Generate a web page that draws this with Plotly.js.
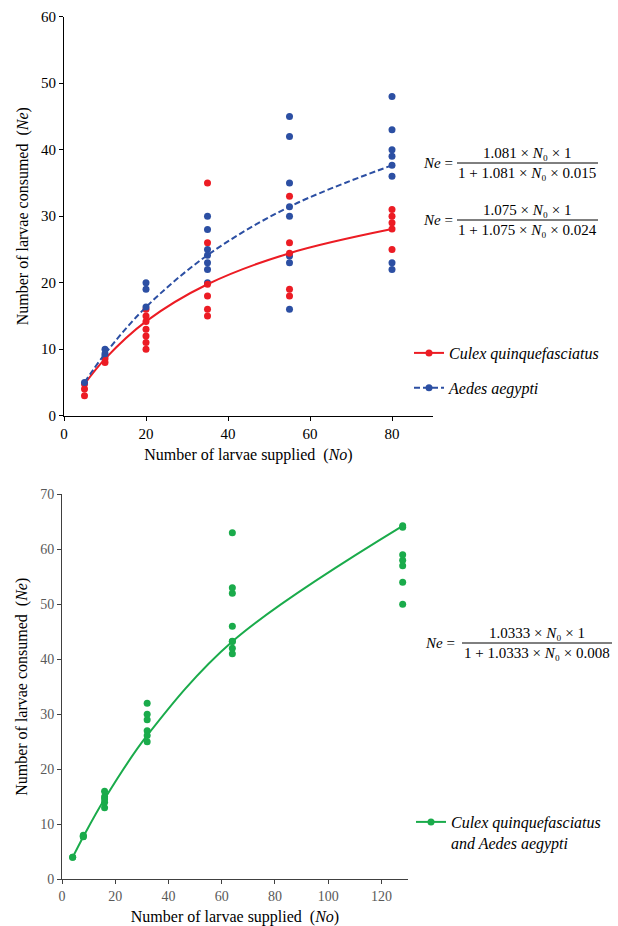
<!DOCTYPE html>
<html><head><meta charset="utf-8">
<script src="https://cdn.plot.ly/plotly-3.0.1.min.js"></script>
<style>html,body{margin:0;padding:0;background:#fff}#chart{width:618px;height:926px}</style>
</head><body><div id="chart"></div>
<script>
// ---- Top panel data ----
const topFitX = [5, 10, 20, 35, 55, 80];
const culexFitY = [4.76, 8.55, 14.18, 19.77, 24.44, 28.07];
const aedesFitY = [5.0, 9.30, 16.33, 24.14, 31.43, 37.65];
const culexObsX = [5,5, 10, 20,20,20,20,20,20, 35,35,35,35,35, 55,55,55,55, 80,80,80,80];
const culexObsY = [3,4, 8, 10,11,12,13,15,16, 15,16,18,26,35, 18,19,26,33, 25,29,30,31];
const aedesObsX = [10,10, 20,20, 35,35,35,35,35,35, 55,55,55,55,55,55,55, 80,80,80,80,80,80,80];
const aedesObsY = [10,9, 19,20, 20,22,23,25,28,30, 16,23,24,30,35,42,45, 22,23,36,39,40,43,48];
// ---- Bottom panel data ----
const bothFitX = [4, 8, 16, 32, 64, 128];
const bothFitY = [4.0, 7.75, 14.6, 26.15, 43.25, 64.27];
const bothObsX = [4, 8,8, 16,16,16,16, 32,32,32,32,32, 64,64,64,64,64,64,64, 128,128,128,128,128,128];
const bothObsY = [4, 8,7.8, 13,14,15,16, 25,27,29,30,32, 41,42,43.3,46,52,53,63, 50,54,57,58,59,64];
// ---- Labels ----
const xTitle = 'Number of larvae supplied  (<i>No</i>)';
const yTitle = 'Number of larvae consumed  (<i>Ne</i>)';
const topTicksX = [0, 20, 40, 60, 80];
const topTicksY = [0, 10, 20, 30, 40, 50, 60];
const botTicksX = [0, 20, 40, 60, 80, 100, 120];
const botTicksY = [0, 10, 20, 30, 40, 50, 60, 70];

const RED = '#ec1c24', BLUE = '#2c4fa3', GREEN = '#1aab4b';
const W = 618, H = 926;
const px = x => x / W, py = y => 1 - y / H;
const FONT = 'Liberation Serif';

const traces = [
  {x: culexObsX, y: culexObsY, xaxis: 'x', yaxis: 'y', mode: 'markers', showlegend: false,
   marker: {color: RED, size: 7}, hoverinfo: 'skip'},
  {x: aedesObsX, y: aedesObsY, xaxis: 'x', yaxis: 'y', mode: 'markers', showlegend: false,
   marker: {color: BLUE, size: 7}, hoverinfo: 'skip'},
  {x: topFitX, y: culexFitY, xaxis: 'x', yaxis: 'y', mode: 'lines+markers', name: '<i>Culex quinquefasciatus</i>',
   line: {color: RED, width: 2, shape: 'spline'}, marker: {color: RED, size: 7}, legend: 'legend', legendgroup: 'a'},
  {x: topFitX, y: aedesFitY, xaxis: 'x', yaxis: 'y', mode: 'lines+markers', name: '<i>Aedes aegypti</i>',
   line: {color: BLUE, width: 2, dash: '6px,3px', shape: 'spline'}, marker: {color: BLUE, size: 7}, legend: 'legend', legendgroup: 'b'},
  {x: bothObsX, y: bothObsY, xaxis: 'x2', yaxis: 'y2', mode: 'markers', showlegend: false,
   marker: {color: GREEN, size: 7}, hoverinfo: 'skip'},
  {x: bothFitX, y: bothFitY, xaxis: 'x2', yaxis: 'y2', mode: 'lines+markers',
   name: '<i>Culex quinquefasciatus</i><br><i>and Aedes aegypti</i>',
   line: {color: GREEN, width: 2, shape: 'spline'}, marker: {color: GREEN, size: 7}, legend: 'legend2'}
];

function axis(domain, range, ticks, color, lineColor, title, anchor, tsize) {
  return {
    domain: domain, range: range, tickvals: ticks, ticktext: ticks.map(String),
    showgrid: false, zeroline: false, showline: true, linecolor: lineColor, linewidth: 1,
    ticks: 'outside', ticklen: 4, tickcolor: lineColor, anchor: anchor,
    tickfont: {family: FONT, size: tsize, color: color},
    title: {text: title, font: {family: FONT, size: 16, color: '#000'}, standoff: 8},
    fixedrange: true
  };
}

const eqFont = {family: FONT, size: 15, color: '#000'};
function equation(neX, cx, yc, num, den, barL, barR) {
  const ann = [
    {text: '<i>Ne</i> =', x: px(neX), y: py(yc), xanchor: 'center', yanchor: 'middle'},
    {text: num, x: px(cx), y: py(yc - 10), xanchor: 'center', yanchor: 'middle'},
    {text: den, x: px(cx), y: py(yc + 10), xanchor: 'center', yanchor: 'middle'}
  ].map(a => Object.assign(a, {xref: 'paper', yref: 'paper', showarrow: false, font: eqFont}));
  const shp = {type: 'line', xref: 'paper', yref: 'paper', x0: px(barL), x1: px(barR), y0: py(yc), y1: py(yc),
               line: {color: '#000', width: 1}};
  return {ann, shp};
}
const N0 = '<i>N</i>\u2080';
const e1 = equation(438, 527, 163, '1.081 × ' + N0 + ' × 1', '1 + 1.081 × ' + N0 + ' × 0.015', 457, 598);
const e2 = equation(438, 527, 220, '1.075 × ' + N0 + ' × 1', '1 + 1.075 × ' + N0 + ' × 0.024', 457, 598);
const e3 = equation(440, 537, 643, '1.0333 × ' + N0 + ' × 1', '1 + 1.0333 × ' + N0 + ' × 0.008', 462, 612);

const layout = {
  width: W, height: H, margin: {l: 0, r: 0, t: 0, b: 0},
  paper_bgcolor: '#fff', plot_bgcolor: '#fff', font: {family: FONT},
  xaxis: axis([px(64), px(433)], [0, 90], topTicksX, '#000', '#000', xTitle, 'y', 15),
  yaxis: axis([py(415.7), py(16.7)], [0, 60], topTicksY, '#000', '#000', yTitle, 'x', 15),
  xaxis2: axis([px(62), px(408)], [0, 130], botTicksX, '#595959', '#404040', xTitle, 'y2', 14),
  yaxis2: axis([py(879.3), py(494.3)], [0, 70], botTicksY, '#595959', '#404040', yTitle, 'x2', 14),
  legend: {x: px(409), y: py(336), xanchor: 'left', yanchor: 'top', bgcolor: 'rgba(0,0,0,0)',
           font: {family: FONT, size: 16, color: '#000'}, traceorder: 'grouped', tracegroupgap: 11},
  legend2: {x: px(411), y: py(805), xanchor: 'left', yanchor: 'top', bgcolor: 'rgba(0,0,0,0)', valign: 'top',
            font: {family: FONT, size: 16, color: '#000'}},
  annotations: [...e1.ann, ...e2.ann, ...e3.ann],
  shapes: [e1.shp, e2.shp, e3.shp],
  showlegend: true
};

Plotly.newPlot('chart', traces, layout, {displayModeBar: false, staticPlot: true});
</script></body></html>
